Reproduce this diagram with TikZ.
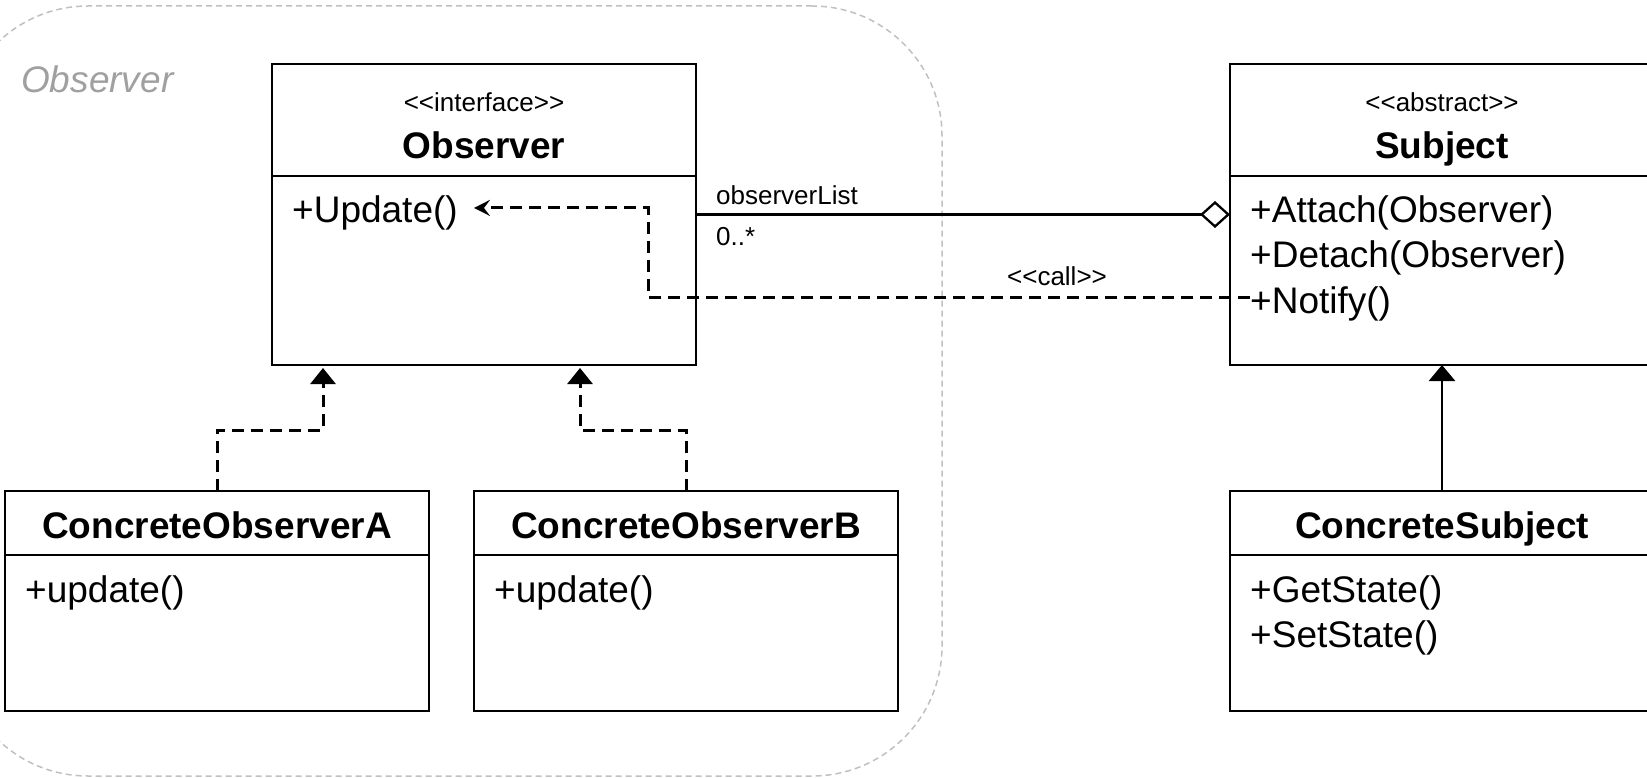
\documentclass[tikz,border=0pt]{standalone}
\usepackage{fontspec}
\setmainfont{Liberation Sans}
\usetikzlibrary{arrows.meta}
\definecolor{framegray}{RGB}{192,192,192}
\definecolor{labelgray}{RGB}{160,160,160}
% literal double angle brackets (kept apart so they are not turned into guillemets)
\newcommand{\lguil}{<\kern0pt<}
\newcommand{\rguil}{>\kern0pt>}
\begin{document}
\begin{tikzpicture}[x=1pt, y=-1pt,
  classbox/.style={draw, line width=2.6pt, inner sep=0pt, outer sep=0pt, minimum width=424pt},
  divider/.style={line width=2.6pt},
  txt/.style={inner sep=0pt, anchor=base west, font=\fontsize{37}{44}\selectfont},
  txtb/.style={inner sep=0pt, anchor=base, font=\fontsize{37}{44}\selectfont\bfseries},
  txts/.style={inner sep=0pt, anchor=base, font=\fontsize{26}{31}\selectfont},
  grouplabel/.style={inner sep=0pt, text=labelgray, font=\fontsize{37}{44}\selectfont\itshape},
  groupframe/.style={draw=framegray, line width=1.5pt, dash pattern=on 6pt off 4pt,
    rounded corners=130pt, inner sep=0pt, minimum width=984pt, minimum height=770pt},
  realize/.style={line width=3pt, dash pattern=on 12pt off 7pt,
    -{Triangle[length=16pt,width=25pt]}, shorten >=3pt},
  generalize/.style={line width=2.8pt, -{Triangle[length=16pt,width=26pt]}},
  aggregate/.style={line width=2.3pt, -{Diamond[open,length=30pt,width=27pt]}},
  usage/.style={line width=3pt, dash pattern=on 12pt off 7pt,
    -{Stealth[length=16pt,width=16pt,inset=6pt]}}
]
\useasboundingbox (0,0) rectangle (1647,778);
\clip (0,0) rectangle (1647,778);

% package frame
\node[groupframe] (grp) at (450,391) {};
\node[grouplabel, anchor=west] (grplabel) at (21,79) {Observer};

% Observer interface
\node[classbox, minimum height=301pt] (obs) at (484,214.5) {};
\draw[divider] ([yshift=-112pt]obs.north west) -- ([yshift=-112pt]obs.north east);
\node[txts] (obsst) at (484,111.5) {\lguil interface\rguil};
\node[txtb] (obsname) at (484,159) {Observer};
\node[txt] (upd) at (292,223) {+Update()};

% Subject
\node[classbox, minimum height=301pt] (subj) at (1442,214.5) {};
\draw[divider] ([yshift=-112pt]subj.north west) -- ([yshift=-112pt]subj.north east);
\node[txts] (subjst) at (1442,111.5) {\lguil abstract\rguil};
\node[txtb] (subjname) at (1442,159) {Subject};
\node[txt] (att) at (1250,223) {+Attach(Observer)};
\node[txt] (det) at (1250,268) {+Detach(Observer)};
\node[txt] (ntf) at (1250,313) {+Notify()};

% concrete observers
\node[classbox, minimum height=220pt] (coa) at (217,601) {};
\draw[divider] ([yshift=-64pt]coa.north west) -- ([yshift=-64pt]coa.north east);
\node[txtb] (coaname) at (217,538) {ConcreteObserverA};
\node[txt] (coaupd) at (25,602) {+update()};

\node[classbox, minimum height=220pt] (cob) at (686,601) {};
\draw[divider] ([yshift=-64pt]cob.north west) -- ([yshift=-64pt]cob.north east);
\node[txtb] (cobname) at (686,538) {ConcreteObserverB};
\node[txt] (cobupd) at (494,602) {+update()};

% concrete subject
\node[classbox, minimum height=220pt] (cs) at (1442,601) {};
\draw[divider] ([yshift=-64pt]cs.north west) -- ([yshift=-64pt]cs.north east);
\node[txtb] (csname) at (1442,538) {ConcreteSubject};
\node[txt] (gst) at (1250,602) {+GetState()};
\node[txt] (sst) at (1250,647) {+SetState()};

% bend points
\coordinate (ra) at (323,430);
\coordinate (rb) at (580,430);
\coordinate (cx) at (648,297);

% realizations
\draw[realize] (coa.north) |- (ra) -- (ra |- obs.south);
\draw[realize] (cob.north) |- (rb) -- (rb |- obs.south);

% inheritance
\draw[generalize] (cs.north) -- (subj.south);

% aggregation
\draw[aggregate] (obs.east) -- (subj.west);
\node[txts, anchor=base west] (rolename) at (716,205) {observerList};
\node[txts, anchor=base west] (mult) at (716,246) {0..*};

% notify calls update
\draw[usage] (ntf.west |- cx) -- (cx) |- ([xshift=16pt,yshift=5.5pt]upd.east);
\node[txts] (calllabel) at (1057,285.5) {\lguil call\rguil};
\end{tikzpicture}
\end{document}
